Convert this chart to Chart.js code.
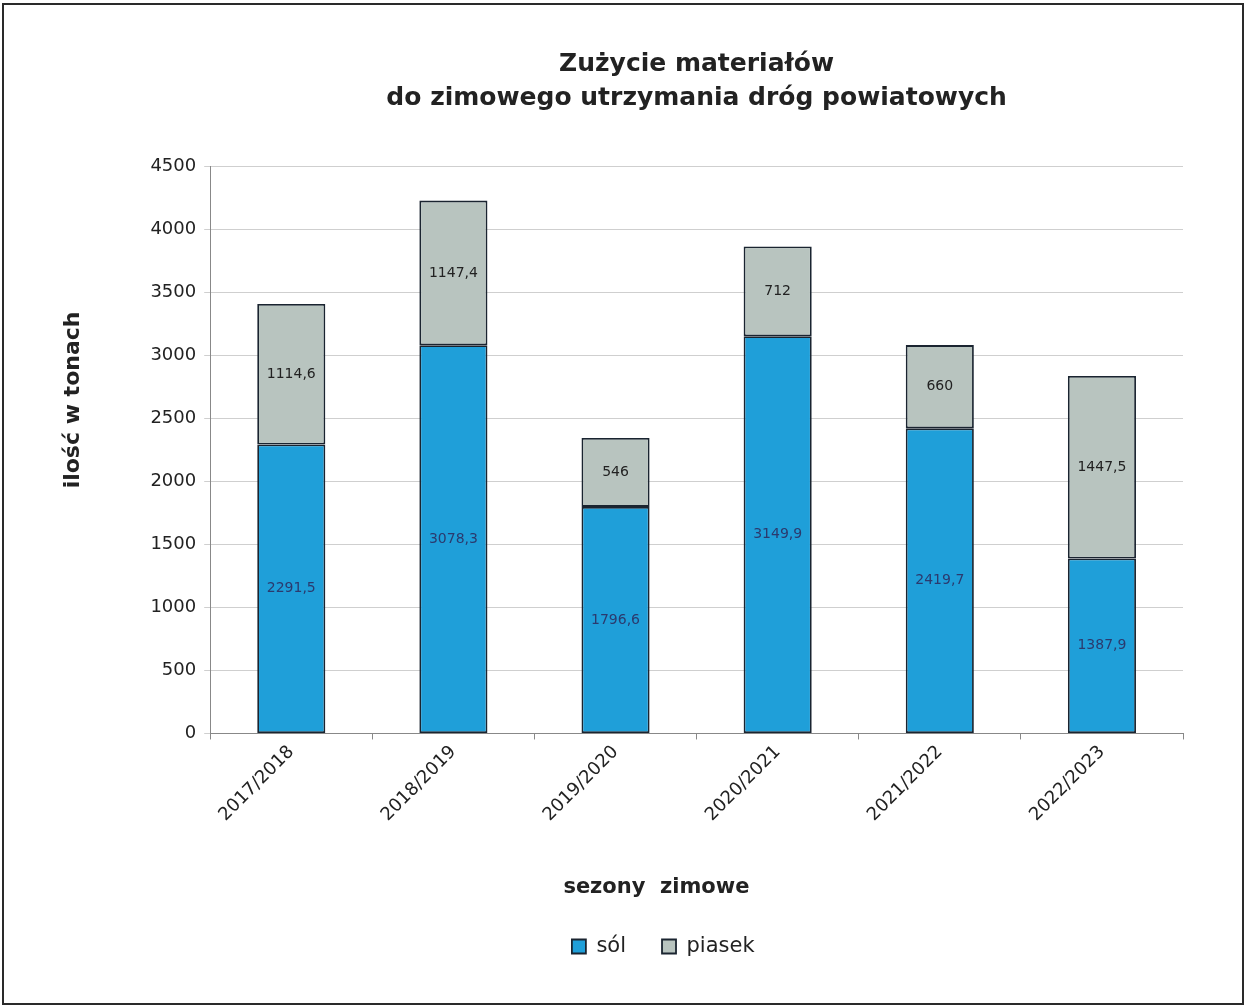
<!DOCTYPE html>
<html lang="pl">
<head>
<meta charset="utf-8">
<title>Zużycie materiałów</title>
<script src="https://cdn.jsdelivr.net/npm/chart.js@4"></script>
<style>
    body { margin: 0; background: #fff; }
    #frame {
        position: absolute; left: 2px; top: 3px;
        width: 1238px; height: 998px;
        border: 2px solid #2a2a2a;
        background: #fff;
    }
    #chart-wrap { position: absolute; left: 0; top: 0; width: 1238px; height: 998px; }
</style>
</head>
<body>
<div id="frame"><div id="chart-wrap"><canvas id="material-chart"></canvas></div></div>
<script>
const seasons = ['2017/2018', '2018/2019', '2019/2020', '2020/2021', '2021/2022', '2022/2023'];
const saltValues = [2291.5, 3078.3, 1796.6, 3149.9, 2419.7, 1387.9];
const sandValues = [1114.6, 1147.4, 546, 712, 660, 1447.5];
const yTicks = [0, 500, 1000, 1500, 2000, 2500, 3000, 3500, 4000, 4500];

const FONT = '"DejaVu Sans", Verdana, sans-serif';
const NBSP = '\u00A0';

// liczby z przecinkiem jak w oryginale
function formatPl(v) {
    return String(v).replace('.', ',');
}

const barLabels = {
    id: 'barLabels',
    afterDatasetsDraw(chart) {
        const ctx = chart.ctx;
        ctx.save();
        ctx.font = '14px ' + FONT;
        ctx.textAlign = 'center';
        ctx.textBaseline = 'middle';
        chart.data.datasets.forEach((ds, i) => {
            const meta = chart.getDatasetMeta(i);
            meta.data.forEach((bar, j) => {
                const y = (bar.y + bar.base) / 2;
                ctx.fillStyle = i === 0 ? '#2b3a6e' : '#222';
                ctx.fillText(formatPl(ds.data[j]), bar.x, y);
            });
        });
        ctx.restore();
    }
};

const ctx = document.getElementById('material-chart').getContext('2d');
const chart = new Chart(ctx, {
    type: 'bar',
    data: {
        labels: seasons,
        datasets: [{
            label: 'sól',
            data: saltValues,
            backgroundColor: '#1f9fd9',
            borderColor: '#1a2430',
            borderWidth: 1.8,
            borderSkipped: false,
            barPercentage: 0.84,
            categoryPercentage: 0.5
        }, {
            label: 'piasek',
            data: sandValues,
            backgroundColor: '#b8c4bf',
            borderColor: '#1a2430',
            borderWidth: 1.8,
            borderSkipped: false,
            barPercentage: 0.84,
            categoryPercentage: 0.5
        }]
    },
    options: {
        responsive: true,
        maintainAspectRatio: false,
        animation: false,
        layout: { padding: { left: 56, right: 59, top: 42, bottom: 36 } },
        plugins: {
            title: {
                display: true,
                fullSize: false,
                text: ['Zużycie materiałów', 'do zimowego utrzymania dróg powiatowych'],
                color: '#222',
                font: { family: FONT, size: 25, weight: 'bold', lineHeight: 1.36 },
                padding: { top: 0, bottom: 51 }
            },
            legend: {
                position: 'bottom',
                fullSize: false,
                labels: {
                    color: '#222',
                    font: { family: FONT, size: 21 },
                    boxWidth: 14,
                    boxHeight: 14,
                    padding: 36,
                    // legenda w oryginale jest przesunięta w lewo
                    generateLabels: (chart) => {
                        const items = Chart.defaults.plugins.legend.labels.generateLabels(chart);
                        items[items.length - 1].text += NBSP.repeat(10);
                        return items;
                    }
                }
            },
            tooltip: { enabled: false }
        },
        scales: {
            x: {
                stacked: true,
                grid: { display: true, drawOnChartArea: false, drawTicks: true, tickLength: 6, color: '#888', offset: true },
                border: { color: '#888' },
                ticks: {
                    color: '#222',
                    font: { family: FONT, size: 18 },
                    minRotation: 45,
                    maxRotation: 45,
                    padding: 2
                },
                title: {
                    display: true,
                    text: 'sezony  zimowe' + NBSP.repeat(11),
                    color: '#222',
                    font: { family: FONT, size: 21, weight: 'bold' },
                    padding: { top: 47, bottom: 0 }
                }
            },
            y: {
                stacked: true,
                min: 0,
                max: 4500,
                afterBuildTicks: (axis) => { axis.ticks = yTicks.map(v => ({ value: v })); },
                grid: { color: '#cfcfcf', tickLength: 6, drawTicks: true },
                border: { color: '#888' },
                ticks: {
                    color: '#222',
                    font: { family: FONT, size: 18 },
                    padding: 8,
                    callback: (v) => String(v)
                },
                title: {
                    display: true,
                    text: NBSP.repeat(13) + 'ilość w tonach',
                    color: '#222',
                    font: { family: FONT, size: 22, weight: 'bold' },
                    padding: { top: 0, bottom: 56 }
                }
            }
        }
    },
    plugins: [barLabels]
});
</script>
</body>
</html>
